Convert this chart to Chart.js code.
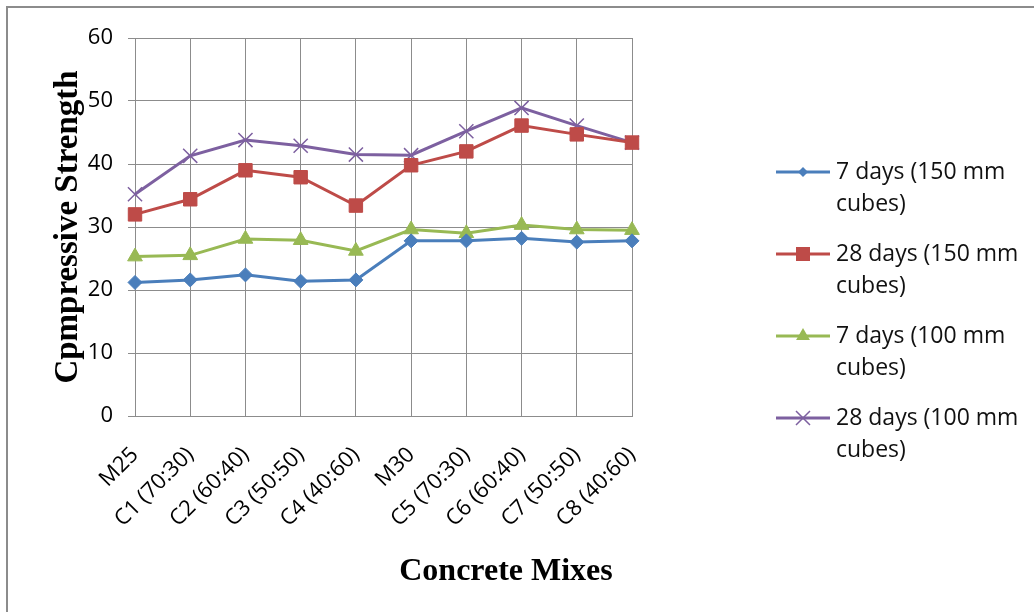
<!DOCTYPE html>
<html>
<head>
<meta charset="utf-8">
<script src="https://cdn.jsdelivr.net/npm/chart.js@4.4.1/dist/chart.umd.min.js"></script>
<style>
  html, body { margin: 0; padding: 0; background: #fff; overflow: hidden; width: 1034px; height: 612px; }
  #frame { position: absolute; left: 6px; top: 6px; width: 1100px; height: 700px; border: 2px solid #8c8c8c; }
  #wrap { position: absolute; left: 0; top: 0; width: 1034px; height: 612px; }
</style>
</head>
<body>
<div id="frame"></div>
<div id="wrap"><canvas id="c" width="1034" height="612"></canvas></div>
<script>
// Concrete mix designations on the category axis
const mixes = ['M25', 'C1 (70:30)', 'C2 (60:40)', 'C3 (50:50)', 'C4 (40:60)',
               'M30', 'C5 (70:30)', 'C6 (60:40)', 'C7 (50:50)', 'C8 (40:60)'];

// Compressive strength (N/mm²) per curing age and cube size
const days7_150mm  = [21.2, 21.6, 22.4, 21.4, 21.6, 27.8, 27.8, 28.2, 27.6, 27.8];
const days28_150mm = [32.0, 34.4, 39.0, 37.9, 33.4, 39.8, 42.0, 46.1, 44.7, 43.4];
const days7_100mm  = [25.3, 25.5, 28.1, 27.9, 26.2, 29.6, 29.0, 30.3, 29.6, 29.5];
const days28_100mm = [35.2, 41.3, 43.8, 42.9, 41.5, 41.4, 45.2, 48.9, 46.1, 43.4];

// Legend captions, split over two lines
const seriesLabels = [
  ['7 days (150 mm', 'cubes)'],
  ['28 days (150 mm', 'cubes)'],
  ['7 days (100 mm', 'cubes)'],
  ['28 days (100 mm', 'cubes)']
];

// Value-axis ticks
const yTicks = [0, 10, 20, 30, 40, 50, 60];

const xTitle = 'Concrete Mixes';
const yTitle = 'Cpmpressive Strength';

const COLORS = ['#4a7ebb', '#be4b48', '#98b954', '#7d60a0'];
const GRID = '#8c8c8c';
const TICK_FONT = { family: '"Open Sans", sans-serif', size: 22 };

function series(i, data, style, radius, bw) {
  return {
    label: seriesLabels[i].join(' '),
    data: data,
    borderColor: COLORS[i],
    backgroundColor: COLORS[i],
    borderWidth: 3,
    tension: 0,
    pointStyle: style,
    pointRadius: radius,
    pointHoverRadius: radius,
    pointBorderWidth: bw,
    pointBackgroundColor: COLORS[i],
    pointBorderColor: COLORS[i]
  };
}

// Draw a legend marker by hand so the line sample and symbol sit together
function legendMarker(ctx, style, x, y, color) {
  ctx.save();
  ctx.fillStyle = color;
  ctx.strokeStyle = color;
  ctx.beginPath();
  if (style === 'rectRot') {
    const r = 5;
    ctx.moveTo(x, y - r); ctx.lineTo(x + r, y); ctx.lineTo(x, y + r); ctx.lineTo(x - r, y);
    ctx.closePath(); ctx.fill();
  } else if (style === 'rect') {
    const h = 7;
    ctx.rect(x - h, y - h, 2 * h, 2 * h); ctx.fill();
  } else if (style === 'triangle') {
    const r = 8;
    ctx.moveTo(x, y - r);
    ctx.lineTo(x + r * 0.866, y + r * 0.5);
    ctx.lineTo(x - r * 0.866, y + r * 0.5);
    ctx.closePath(); ctx.fill();
  } else if (style === 'crossRot') {
    const d = 7;
    ctx.lineWidth = 1.5;
    ctx.moveTo(x - d, y - d); ctx.lineTo(x + d, y + d);
    ctx.moveTo(x + d, y - d); ctx.lineTo(x - d, y + d);
    ctx.stroke();
  }
  ctx.restore();
}

const sideLegend = {
  id: 'sideLegend',
  afterDraw(chart) {
    const ctx = chart.ctx;
    const styles = ['rectRot', 'rect', 'triangle', 'crossRot'];
    const x0 = 776, x1 = 830, tx = 836;
    const top = 172, step = 82, lineGap = 32;
    ctx.save();
    chart.data.datasets.forEach((ds, i) => {
      const y = top + i * step;
      ctx.strokeStyle = ds.borderColor;
      ctx.lineWidth = 3;
      ctx.beginPath(); ctx.moveTo(x0, y); ctx.lineTo(x1, y); ctx.stroke();
      legendMarker(ctx, styles[i], (x0 + x1) / 2, y, ds.borderColor);
      ctx.fillStyle = '#111';
      ctx.font = '23px "Open Sans", sans-serif';
      ctx.textAlign = 'left';
      ctx.textBaseline = 'middle';
      seriesLabels[i].forEach((line, k) => ctx.fillText(line, tx, y + k * lineGap));
    });
    // category axis title
    ctx.fillStyle = '#000';
    ctx.font = 'bold 32px "Liberation Serif", "Times New Roman", serif';
    ctx.textAlign = 'center';
    ctx.textBaseline = 'middle';
    ctx.fillText(xTitle, 506, 572);
    ctx.restore();
  }
};

new Chart(document.getElementById('c'), {
  type: 'line',
  data: {
    labels: mixes,
    datasets: [
      series(0, days7_150mm, 'rectRot', 7, 1),
      series(1, days28_150mm, 'rect', 9.5, 1),
      series(2, days7_100mm, 'triangle', 8.5, 1),
      series(3, days28_100mm, 'crossRot', 10, 1.5)
    ]
  },
  options: {
    responsive: false,
    animation: false,
    devicePixelRatio: 1,
    layout: { padding: { top: 38, right: 402, left: 0, bottom: 0 } },
    plugins: { legend: { display: false }, tooltip: { enabled: false }, title: { display: false } },
    scales: {
      x: {
        offset: false,
        grid: { color: GRID, lineWidth: 1, drawTicks: false },
        border: { color: GRID, width: 1 },
        ticks: { color: '#000', font: TICK_FONT, minRotation: 45, maxRotation: 45, padding: 26, autoSkip: false },
        afterFit(scale) { scale.height = 196; }
      },
      y: {
        min: 0, max: 60,
        afterBuildTicks(scale) { scale.ticks = yTicks.map(v => ({ value: v })); },
        grid: { color: GRID, lineWidth: 1, drawTicks: true, tickLength: 7 },
        border: { color: GRID, width: 1 },
        ticks: { color: '#000', font: TICK_FONT, padding: 15 },
        title: {
          display: true,
          text: yTitle,
          color: '#000',
          font: { family: '"Liberation Serif", "Times New Roman", serif', size: 33, weight: 'bold', lineHeight: 1.2 },
          padding: { top: 49, bottom: 0 }
        },
        afterFit(scale) { scale.width = 135; }
      }
    }
  },
  plugins: [sideLegend]
});
</script>
</body>
</html>
